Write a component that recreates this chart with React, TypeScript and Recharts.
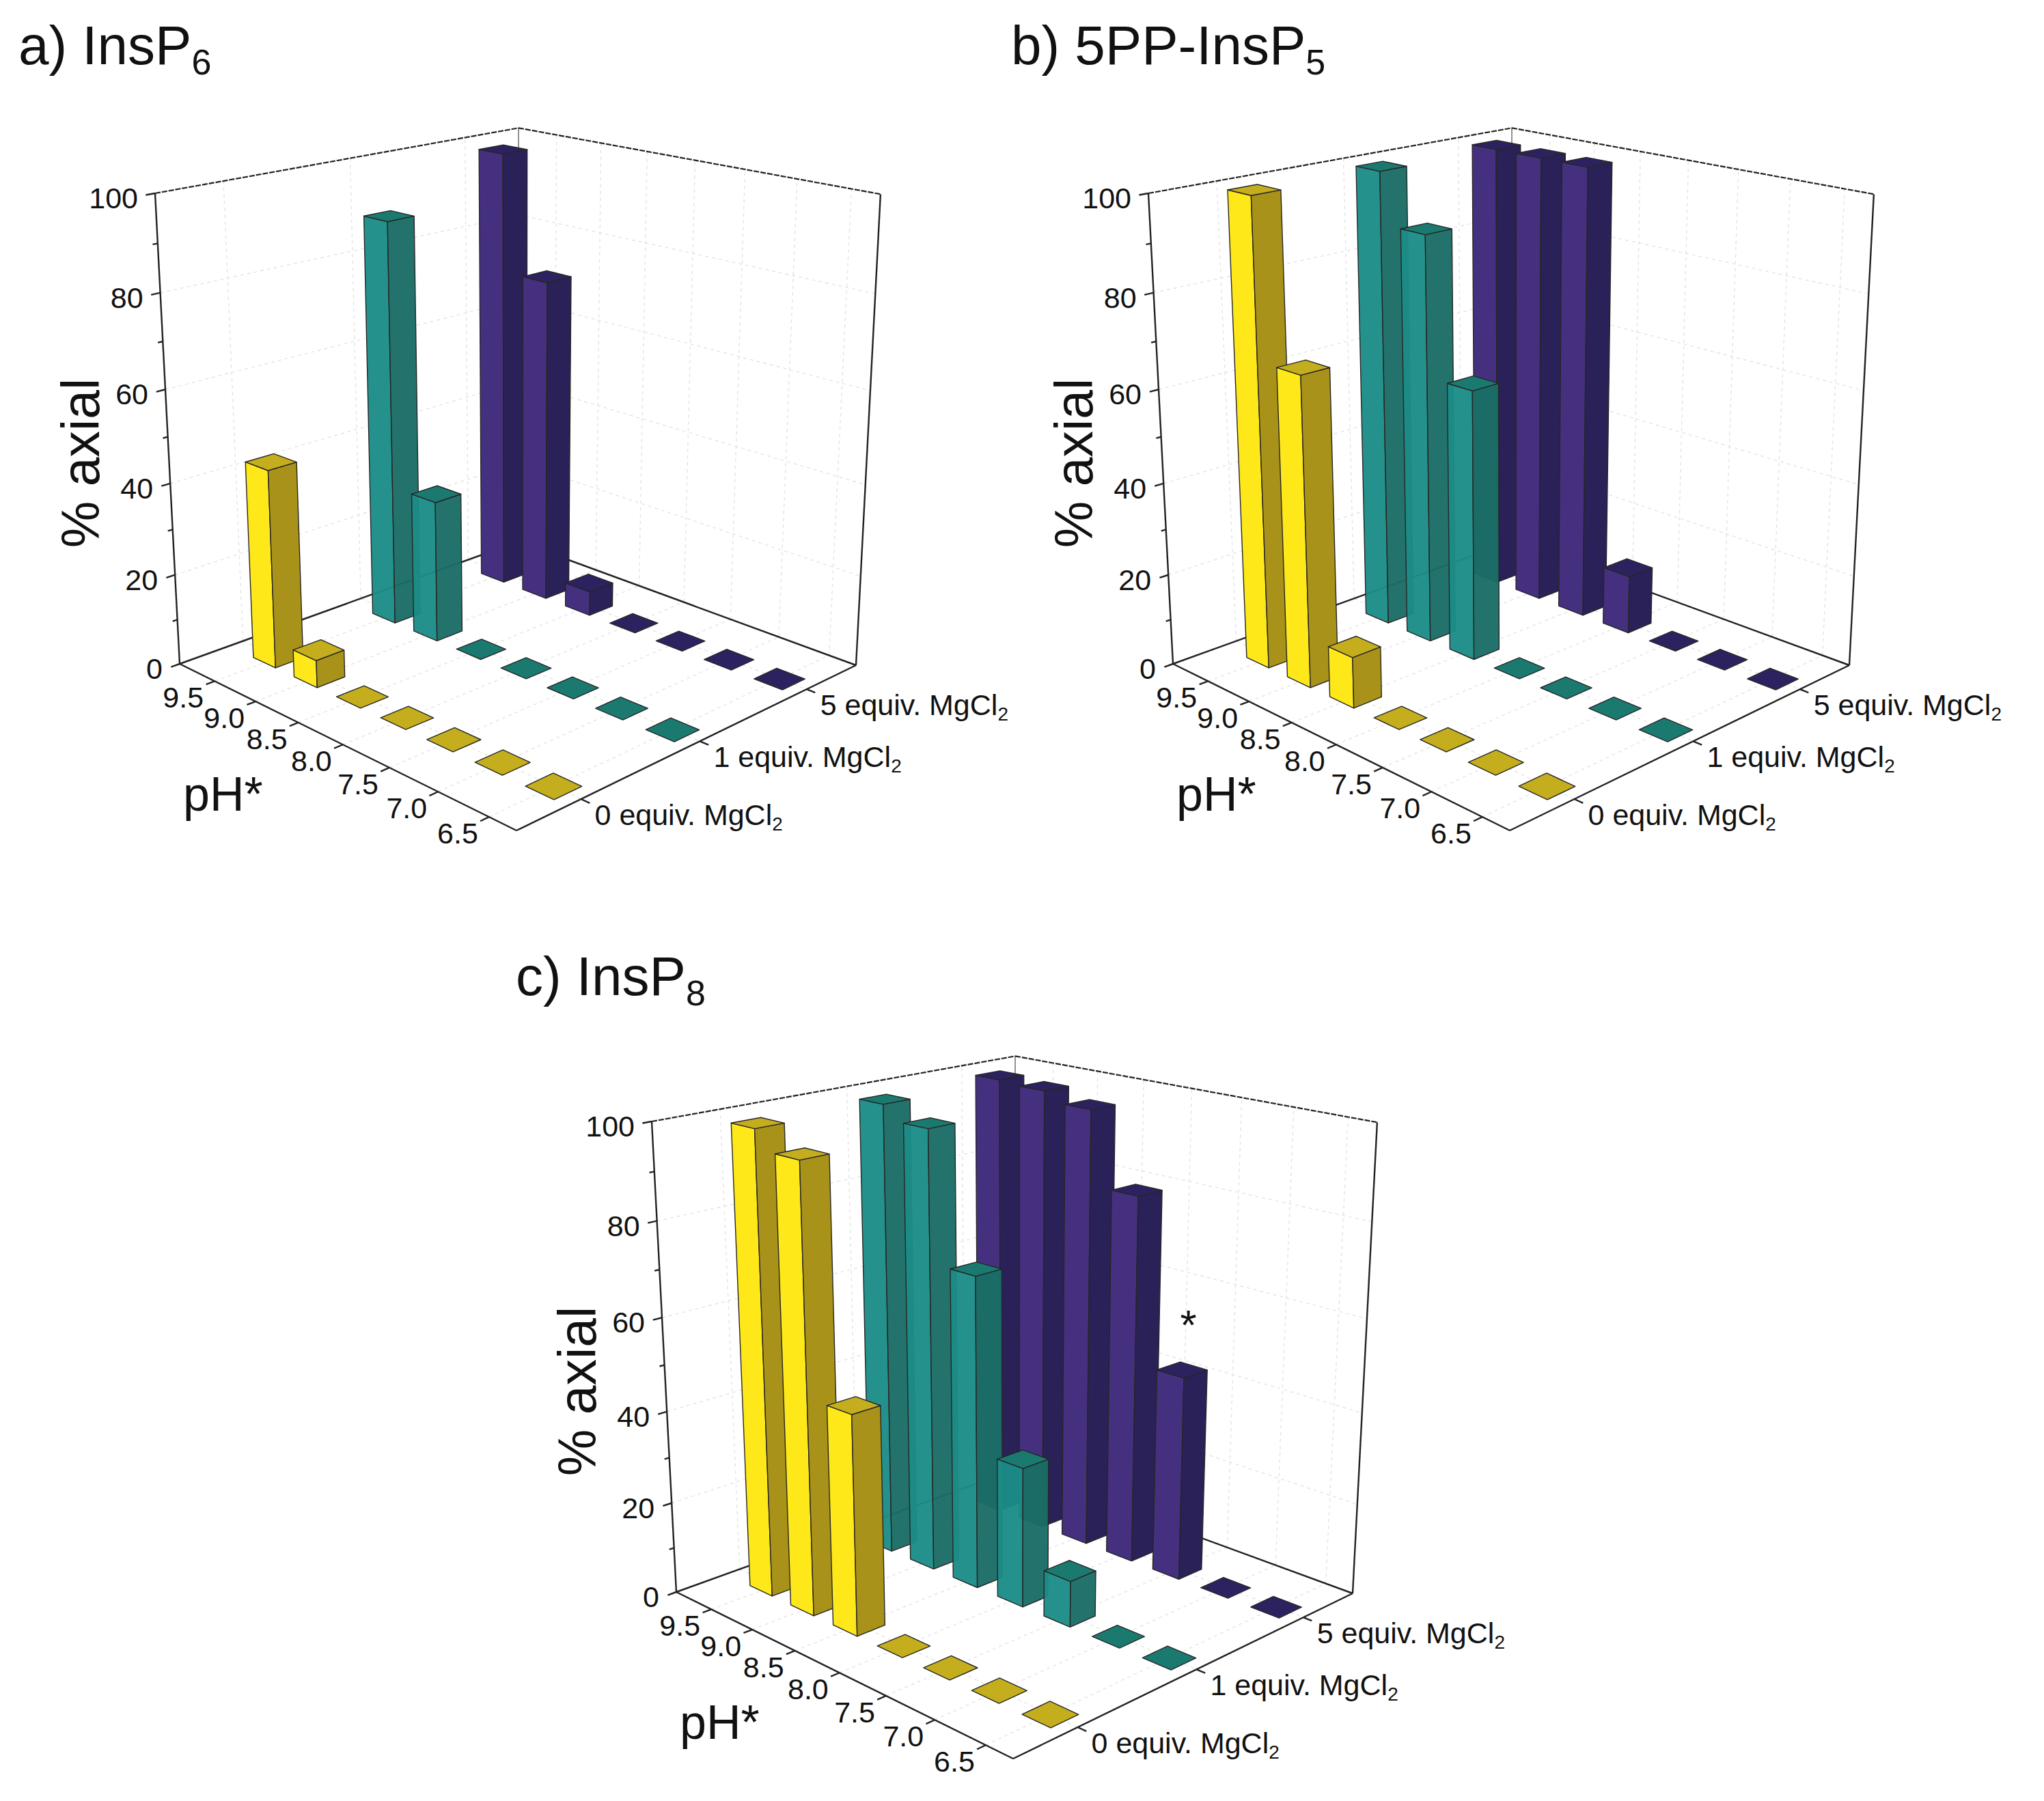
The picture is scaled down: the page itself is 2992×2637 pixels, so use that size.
import { ScatterChart, Scatter, XAxis, YAxis } from "recharts";

const phLabels = ["9.5", "9.0", "8.5", "8.0", "7.5", "7.0", "6.5"];
const mgLabels = ["0 equiv. MgCl", "1 equiv. MgCl", "5 equiv. MgCl"];
const percentTicks = [0, 20, 40, 60, 80, 100];
const minorTicks = [10, 30, 50, 70, 90];

// % axial per pH*, from 9.5 down to 6.5
const insP6Mg0 = [43.5, 6, 0, 0, 0, 0, 0];
const insP6Mg1 = [89.5, 31.5, 0, 0, 0, 0, 0];
const insP6Mg5 = [99, 73, 5.5, 0, 0, 0, 0];

const ppInsP5Mg0 = [100, 66.5, 11, 0, 0, 0, 0];
const ppInsP5Mg1 = [100, 89, 59, 0, 0, 0, 0];
const ppInsP5Mg5 = [100, 100, 100, 13, 0, 0, 0];

const insP8Mg0 = [99, 95, 47, 0, 0, 0, 0];
const insP8Mg1 = [99, 96, 68, 30.5, 10, 0, 0];
const insP8Mg5 = [99.5, 99, 97, 81, 45, 0, 0];

const WIDTH = 1500;
const HEIGHT = 1270;

const yellow = { left: "#ffe81a", right: "#a8921a", top: "#c4ae1e", opacity: 1 };
const teal = { left: "#1c8c87", right: "#1a6d66", top: "#1b7a70", opacity: 0.96 };
const purple = { left: "#45307f", right: "#2a2158", top: "#2d2260", opacity: 1 };

// box corners on the page, all three panels share the same view
const L = [263, 972];
const F = [756, 1216];
const R = [1253, 974];
const B = [759, 793];
const TL = [227, 283];
const TB = [759, 186];

// perspective map from the unit box to the panel (floor homography plus height column)
const sx = L[0] - F[0] + R[0] - B[0];
const sy = L[1] - F[1] + R[1] - B[1];
const dx1 = F[0] - R[0];
const dx2 = B[0] - R[0];
const dy1 = F[1] - R[1];
const dy2 = B[1] - R[1];
const den = dx1 * dy2 - dx2 * dy1;
const g = (sx * dy2 - dx2 * sy) / den;
const h = (dx1 * sy - sx * dy1) / den;
const a = F[0] - L[0] + g * F[0];
const b = B[0] - L[0] + h * B[0];
const d = F[1] - L[1] + g * F[1];
const e = B[1] - L[1] + h * B[1];
const i3 = (b + TL[0] - TB[0] * (h + 1)) / (TB[0] - TL[0]);
const c = TL[0] * (i3 + 1) - L[0];
const f = TL[1] * (i3 + 1) - L[1];

const project = (u: number, v: number, w: number) => {
  const q = g * u + h * v + i3 * w + 1;
  return [(a * u + b * v + c * w + L[0]) / q, (d * u + e * v + f * w + L[1]) / q];
};

// the pH axis has some padding at both ends
const uOf = (i: number) => 0.12 + 0.135 * i;
const vOf = (j: number) => (j + 0.5) / 3;
const BAR = 0.037;

const segment = (p: number[], q: number[]) => {
  const s = project(p[0], p[1], p[2]);
  const t = project(q[0], q[1], q[2]);
  return { x: s[0], y: s[1], x2: t[0], y2: t[1] };
};

const wallGrid = [
  ...percentTicks.slice(1, 5).flatMap((t) => [
    segment([0, 0, t / 100], [0, 1, t / 100]),
    segment([0, 1, t / 100], [1, 1, t / 100]),
  ]),
  ...phLabels.flatMap((_, i) => [segment([uOf(i), 0, 0], [uOf(i), 1, 0]), segment([uOf(i), 1, 0], [uOf(i), 1, 1])]),
  ...mgLabels.flatMap((_, j) => [segment([0, vOf(j), 0], [1, vOf(j), 0]), segment([0, vOf(j), 0], [0, vOf(j), 1])]),
];

const solidFrame = [
  segment([0, 0, 0], [0, 0, 1]),
  segment([1, 1, 0], [1, 1, 1]),
  segment([0, 0, 0], [1, 0, 0]),
  segment([1, 0, 0], [1, 1, 0]),
  segment([0, 0, 0], [0, 1, 0]),
  segment([0, 1, 0], [1, 1, 0]),
  ...percentTicks.map((t) => segment([0, 0, t / 100], [0, -0.022, t / 100])),
  ...minorTicks.map((t) => segment([0, 0, t / 100], [0, -0.012, t / 100])),
  ...phLabels.map((_, i) => segment([uOf(i), 0, 0], [uOf(i), -0.022, 0])),
  ...mgLabels.map((_, j) => segment([1, vOf(j), 0], [1.022, vOf(j), 0])),
];

const dashedFrame = [segment([0, 0, 1], [0, 1, 1]), segment([0, 1, 1], [1, 1, 1])];
const backEdge = [segment([0, 1, 0], [0, 1, 1])];

const Seg = (stroke: string, width: number, dash?: string) => (props: any) => {
  const r = props.payload;
  return (
    <line
      x1={props.cx}
      y1={props.cy}
      x2={props.cx + r.x2 - r.x}
      y2={props.cy + r.y2 - r.y}
      stroke={stroke}
      strokeWidth={width}
      strokeDasharray={dash}
    />
  );
};

const Cuboid = (colors: typeof yellow) => (props: any) => {
  const { u, v, w, x, y } = props.payload;
  const ox = props.cx - x;
  const oy = props.cy - y;
  const pt = (pu: number, pv: number, pw: number) => {
    const s = project(pu, pv, pw);
    return `${s[0] + ox},${s[1] + oy}`;
  };
  const u0 = u - BAR;
  const u1 = u + BAR;
  const v0 = v - BAR;
  const v1 = v + BAR;
  const edge = { stroke: "#262626", strokeWidth: 1.4, strokeLinejoin: "round" as const };
  return (
    <g>
      {w > 0 && (
        <polygon
          points={[pt(u0, v0, 0), pt(u1, v0, 0), pt(u1, v0, w), pt(u0, v0, w)].join(" ")}
          fill={colors.left}
          fillOpacity={colors.opacity}
          {...edge}
        />
      )}
      {w > 0 && (
        <polygon
          points={[pt(u1, v0, 0), pt(u1, v1, 0), pt(u1, v1, w), pt(u1, v0, w)].join(" ")}
          fill={colors.right}
          fillOpacity={colors.opacity}
          {...edge}
        />
      )}
      <polygon points={[pt(u0, v0, w), pt(u1, v0, w), pt(u1, v1, w), pt(u0, v1, w)].join(" ")} fill={colors.top} {...edge} />
    </g>
  );
};

const Label = (props: any) => {
  const r = props.payload;
  const font = "'Liberation Sans', Arial, sans-serif";
  return (
    <text
      x={props.cx}
      y={props.cy}
      fontFamily={font}
      fontSize={r.size}
      fill="#111111"
      textAnchor={r.anchor}
      transform={r.rotate ? `rotate(${r.rotate} ${props.cx} ${props.cy})` : undefined}
    >
      {r.text}
      {r.sub && (
        <tspan fontSize={r.subSize} dy={r.subDy}>
          {r.sub}
        </tspan>
      )}
    </text>
  );
};

const axisLabels = [
  ...percentTicks.map((t) => {
    const s = project(0, 0, t / 100);
    return { x: s[0] - 25, y: s[1] + 22, text: String(t), size: 43, anchor: "end" };
  }),
  ...phLabels.map((text, i) => {
    const s = project(uOf(i), 0, 0);
    return { x: s[0] - 46, y: s[1] + 39, text, size: 43, anchor: "middle" };
  }),
  ...mgLabels.map((text, j) => {
    const s = project(1, vOf(j), 0);
    return { x: s[0] + 20, y: s[1] + 38, text, sub: "2", size: 43, subSize: 28, subDy: 8, anchor: "start" };
  }),
  { x: 145, y: 678, text: "% axial", size: 77, anchor: "middle", rotate: -90 },
  { x: 268, y: 1187, text: "pH*", size: 70, anchor: "start" },
];

const bars = (values: number[], j: number) =>
  values.map((value, i) => {
    const s = project(uOf(i), vOf(j), 0);
    return { x: s[0], y: s[1], u: uOf(i), v: vOf(j), w: value / 100 };
  });

type PanelProps = {
  left: number;
  top: number;
  title: any;
  mg0: number[];
  mg1: number[];
  mg5: number[];
  star?: number;
};

function Panel({ left, top, title, mg0, mg1, mg5, star }: PanelProps) {
  const labels = [title, ...axisLabels];
  if (star !== undefined) {
    const s = project(uOf(star), vOf(2), mg5[star] / 100 + 0.075);
    labels.push({ x: s[0] + 8, y: s[1] + 6, text: "*", size: 62, anchor: "middle" });
  }
  return (
    <div style={{ position: "absolute", left, top, width: WIDTH, height: HEIGHT }}>
      <ScatterChart width={WIDTH} height={HEIGHT} margin={{ top: 0, right: 0, bottom: 0, left: 0 }}>
        <XAxis type="number" dataKey="x" domain={[0, WIDTH]} hide />
        <YAxis type="number" dataKey="y" domain={[0, HEIGHT]} reversed hide />
        <Scatter data={wallGrid} shape={Seg("#e4e4e4", 1.4, "5 5")} isAnimationActive={false} />
        <Scatter data={backEdge} shape={Seg("#777777", 1.6)} isAnimationActive={false} />
        <Scatter data={dashedFrame} shape={Seg("#222222", 2.2, "8 2")} isAnimationActive={false} />
        <Scatter data={solidFrame} shape={Seg("#222222", 2.4)} isAnimationActive={false} />
        <Scatter data={bars(mg5, 2)} shape={Cuboid(purple)} isAnimationActive={false} />
        <Scatter data={bars(mg1, 1)} shape={Cuboid(teal)} isAnimationActive={false} />
        <Scatter data={bars(mg0, 0)} shape={Cuboid(yellow)} isAnimationActive={false} />
        <Scatter data={labels} shape={Label} isAnimationActive={false} />
      </ScatterChart>
    </div>
  );
}

export default function App() {
  return (
    <div style={{ position: "absolute", left: 0, top: 0, width: 2992, height: 2637, background: "#fff", overflow: "hidden" }}>
      <Panel
        left={0}
        top={0}
        title={{ x: 27, y: 94, text: "a) InsP", sub: "6", size: 80, subSize: 52, subDy: 15, anchor: "start" }}
        mg0={insP6Mg0}
        mg1={insP6Mg1}
        mg5={insP6Mg5}
      />
      <Panel
        left={1454}
        top={0}
        title={{ x: 26, y: 94, text: "b) 5PP-InsP", sub: "5", size: 80, subSize: 52, subDy: 15, anchor: "start" }}
        mg0={ppInsP5Mg0}
        mg1={ppInsP5Mg1}
        mg5={ppInsP5Mg5}
      />
      <Panel
        left={727}
        top={1359}
        title={{ x: 28, y: 98, text: "c) InsP", sub: "8", size: 80, subSize: 52, subDy: 15, anchor: "start" }}
        mg0={insP8Mg0}
        mg1={insP8Mg1}
        mg5={insP8Mg5}
        star={4}
      />
    </div>
  );
}
